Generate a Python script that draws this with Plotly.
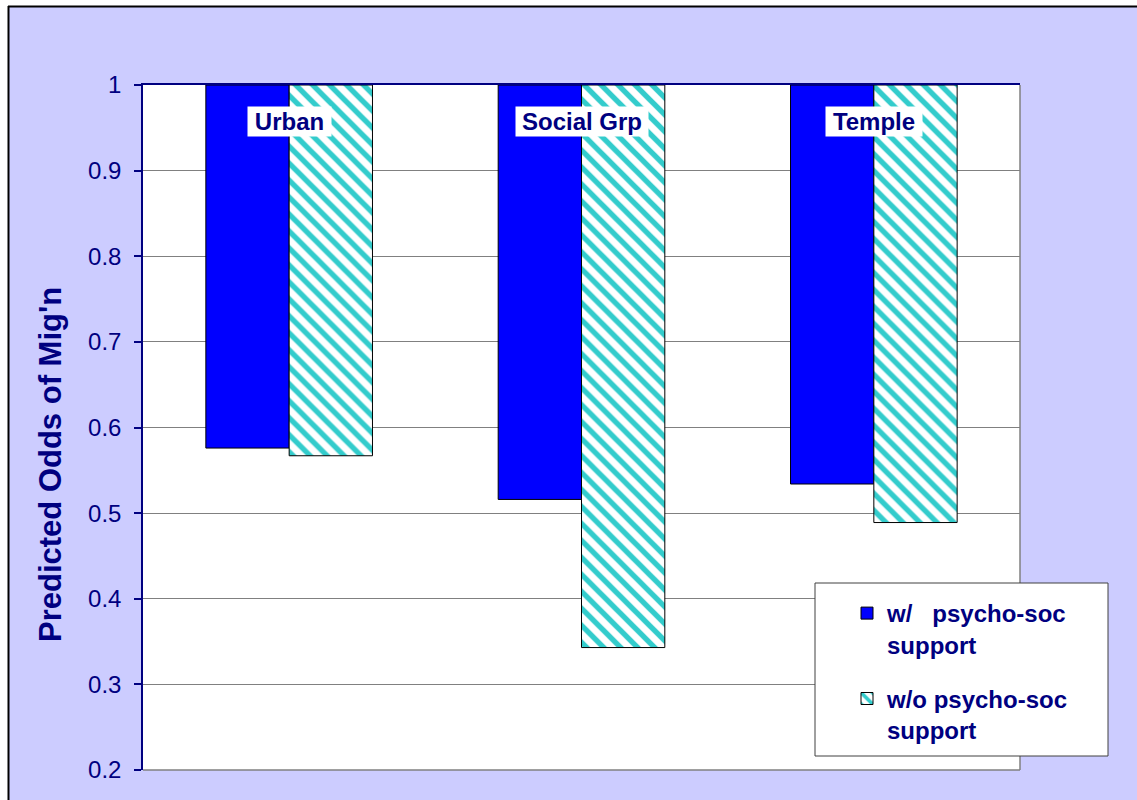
import plotly.graph_objects as go

categories = ["Urban", "Social Grp", "Temple"]
with_support = [0.576, 0.516, 0.534]
without_support = [0.567, 0.343, 0.489]
series_names = ["w/\u00a0\u00a0\u00a0psycho-soc<br>support", "w/o psycho-soc<br>support"]
y_ticks = [0.2, 0.3, 0.4, 0.5, 0.6, 0.7, 0.8, 0.9, 1]
y_title = "Predicted Odds of Mig'n"
BASE = 1.0

NAVY = "#000080"
FONT = "Arial, Liberation Sans, sans-serif"
W, H = 1137, 800
L, R, T, B = 143, 117, 85, 30
PW, PH = W - L - R, H - T - B


def px_x(p):
    return (p - L) / PW


def px_y(p):
    return (H - B - p) / PH


fig = go.Figure()
fig.add_trace(go.Bar(
    x=categories, y=[v - BASE for v in with_support], base=BASE,
    name=series_names[0], legendgroup="a",
    marker=dict(color="#0000FF", line=dict(color="black", width=1)),
))
fig.add_trace(go.Bar(
    x=categories, y=[v - BASE for v in without_support], base=BASE,
    name=series_names[1], legendgroup="b",
    marker=dict(color="white", line=dict(color="black", width=1),
                pattern=dict(shape="\\", fgcolor="#33CCCC", bgcolor="white",
                             size=12, solidity=0.45, fillmode="replace", fgopacity=1)),
))

annotations = []
label_widths = [83, 132, 96]
for c, w in zip(categories, label_widths):
    annotations.append(dict(
        x=c, y=0.957, xref="x", yref="y", text="<b>%s</b>" % c, showarrow=False,
        bgcolor="white", width=w, height=29, borderpad=0,
        font=dict(family=FONT, size=24, color=NAVY),
    ))
annotations.append(dict(
    x=px_x(50), y=px_y(465), xref="paper", yref="paper", text="<b>%s</b>" % y_title,
    showarrow=False, textangle=-90, xanchor="center", yanchor="middle",
    font=dict(family=FONT, size=31, color=NAVY),
))

shapes = [
    # white outer strips and black frame line
    dict(type="rect", xref="paper", yref="paper", x0=px_x(-2), x1=px_x(8), y0=px_y(802), y1=px_y(-2),
         fillcolor="white", line=dict(width=0), layer="above"),
    dict(type="rect", xref="paper", yref="paper", x0=px_x(-2), x1=px_x(1139), y0=px_y(6), y1=px_y(-2),
         fillcolor="white", line=dict(width=0), layer="above"),
    dict(type="line", xref="paper", yref="paper", x0=px_x(8), x1=px_x(1139), y0=px_y(6.5), y1=px_y(6.5),
         line=dict(color="black", width=2), layer="above"),
    dict(type="line", xref="paper", yref="paper", x0=px_x(8.5), x1=px_x(8.5), y0=px_y(802), y1=px_y(6),
         line=dict(color="black", width=2), layer="above"),
    # plot area right / bottom edges
    dict(type="line", xref="paper", yref="paper", x0=1, x1=1, y0=0, y1=1,
         line=dict(color="#808080", width=1.5), layer="above"),
    dict(type="line", xref="paper", yref="paper", x0=0, x1=1, y0=0, y1=0,
         line=dict(color="#808080", width=1.5), layer="above"),
    # legend box
    dict(type="rect", xref="paper", yref="paper", x0=px_x(815), x1=px_x(1108), y0=px_y(756), y1=px_y(583),
         fillcolor="white", line=dict(color="#404040", width=1), layer="above"),
]

fig.update_layout(
    width=W, height=H,
    margin=dict(l=L, r=R, t=T, b=B, autoexpand=False),
    paper_bgcolor="#CCCCFF", plot_bgcolor="white",
    barmode="group", bargap=0.43, bargroupgap=0,
    font=dict(family=FONT, color=NAVY),
    showlegend=True,
    legend=dict(
        x=px_x(847), y=px_y(591), xanchor="left", yanchor="top",
        bgcolor="rgba(0,0,0,0)", borderwidth=0, valign="top",
        font=dict(family=FONT, size=24, color=NAVY, weight="bold"),
        tracegroupgap=20, traceorder="grouped",
    ),
    xaxis=dict(side="top", showticklabels=False, ticks="", showgrid=False,
               showline=True, linecolor=NAVY, linewidth=1.5, zeroline=False),
    yaxis=dict(range=[0.2, 1], tickvals=y_ticks, ticktext=[("%g" % v) for v in y_ticks],
               showline=True, linecolor=NAVY, linewidth=1.5, ticks="outside",
               ticklen=7, tickcolor=NAVY, tickwidth=1.5, ticklabelstandoff=8,
               showgrid=True, gridcolor="#808080", gridwidth=1, zeroline=False,
               tickfont=dict(family=FONT, size=24, color=NAVY)),
    annotations=annotations,
    shapes=shapes,
)

fig.write_html("out.html")
